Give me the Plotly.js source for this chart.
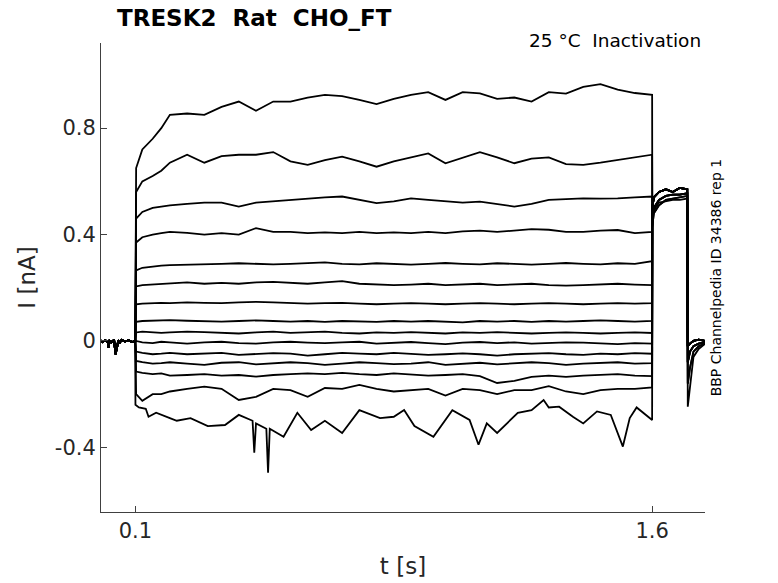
<!DOCTYPE html>
<html>
<head>
<meta charset="utf-8">
<script src="https://cdn.plot.ly/plotly-3.0.1.min.js"></script>
<style>
  html, body { margin: 0; padding: 0; background: #fff; }
  #chart { width: 778px; height: 583px; }
</style>
</head>
<body>
<div id="chart"></div>
<script>
// holding period before the step (shared by all sweeps)
const holdT = [0, 0.005, 0.012, 0.02, 0.022, 0.025, 0.03, 0.038, 0.042, 0.046, 0.05, 0.055, 0.06, 0.07, 0.08, 0.09, 0.0995];
const holdV = [0.002, -0.004, 0.003, -0.006, -0.026, 0.0, -0.005, 0.004, -0.05, -0.03, 0.002, -0.006, 0.004, -0.002, 0.003, -0.004, 0.0];

// test pulse sample times (s)
const stepT = [0.1, 0.102, 0.12, 0.15, 0.175, 0.2, 0.25, 0.3, 0.35, 0.4, 0.45, 0.5, 0.55, 0.6, 0.65, 0.7, 0.75,
  0.8, 0.85, 0.9, 0.95, 1.0, 1.05, 1.1, 1.15, 1.2, 1.25, 1.3, 1.35, 1.4, 1.45, 1.5, 1.55, 1.6];

// current during the pulse (nA), one array per sweep, top to bottom
const sweep1 = [0.60, 0.65, 0.72, 0.76, 0.80, 0.85, 0.855, 0.85, 0.88, 0.90, 0.865, 0.90, 0.90, 0.915, 0.925, 0.92, 0.906,
  0.89, 0.91, 0.925, 0.935, 0.906, 0.935, 0.931, 0.91, 0.915, 0.90, 0.935, 0.93, 0.955, 0.965, 0.945, 0.932, 0.925];
const sweep2 = [0.54, 0.56, 0.60, 0.62, 0.64, 0.67, 0.70, 0.67, 0.695, 0.70, 0.70, 0.71, 0.675, 0.662, 0.68, 0.693, 0.675,
  0.655, 0.675, 0.69, 0.705, 0.668, 0.69, 0.71, 0.69, 0.668, 0.685, 0.69, 0.665, 0.662, 0.67, 0.68, 0.69, 0.70];
const sweep3 = [0.44, 0.46, 0.485, 0.50, 0.505, 0.51, 0.515, 0.52, 0.52, 0.505, 0.52, 0.525, 0.53, 0.536, 0.54, 0.543, 0.53,
  0.518, 0.525, 0.536, 0.53, 0.524, 0.52, 0.524, 0.515, 0.505, 0.515, 0.53, 0.533, 0.536, 0.535, 0.536, 0.54, 0.543];
const sweep4 = [0.355, 0.37, 0.39, 0.40, 0.405, 0.41, 0.406, 0.40, 0.405, 0.40, 0.424, 0.41, 0.41, 0.405, 0.408, 0.405, 0.41,
  0.405, 0.408, 0.405, 0.41, 0.405, 0.412, 0.415, 0.41, 0.415, 0.42, 0.418, 0.41, 0.41, 0.415, 0.417, 0.405, 0.41];
const sweep5 = [0.255, 0.265, 0.275, 0.28, 0.283, 0.285, 0.286, 0.288, 0.29, 0.292, 0.29, 0.288, 0.29, 0.292, 0.295, 0.29, 0.288,
  0.292, 0.29, 0.287, 0.29, 0.293, 0.29, 0.288, 0.292, 0.29, 0.287, 0.29, 0.293, 0.29, 0.288, 0.292, 0.29, 0.30];
const sweep6 = [0.20, 0.205, 0.21, 0.212, 0.215, 0.217, 0.22, 0.215, 0.218, 0.215, 0.22, 0.222, 0.218, 0.215, 0.22, 0.225, 0.215,
  0.213, 0.21, 0.212, 0.215, 0.21, 0.212, 0.215, 0.21, 0.213, 0.215, 0.21, 0.208, 0.21, 0.212, 0.215, 0.212, 0.21];
const sweep7 = [0.135, 0.138, 0.14, 0.142, 0.143, 0.142, 0.145, 0.143, 0.142, 0.145, 0.147, 0.145, 0.142, 0.14, 0.142, 0.143, 0.14,
  0.138, 0.14, 0.142, 0.14, 0.138, 0.14, 0.142, 0.14, 0.138, 0.14, 0.142, 0.14, 0.138, 0.14, 0.142, 0.14, 0.142];
const sweep8 = [0.07, 0.072, 0.075, 0.077, 0.078, 0.078, 0.076, 0.075, 0.073, 0.075, 0.077, 0.075, 0.073, 0.075, 0.072, 0.075, 0.073,
  0.072, 0.075, 0.073, 0.075, 0.073, 0.07, 0.075, 0.073, 0.075, 0.072, 0.075, 0.073, 0.075, 0.077, 0.075, 0.073, 0.075];
const sweep9 = [0.03, 0.032, 0.035, 0.033, 0.03, 0.032, 0.035, 0.033, 0.03, 0.028, 0.032, 0.035, 0.03, 0.032, 0.035, 0.03, 0.028,
  0.032, 0.03, 0.033, 0.03, 0.028, 0.032, 0.03, 0.033, 0.03, 0.028, 0.03, 0.032, 0.03, 0.028, 0.03, 0.032, 0.03];
const sweep10 = [-0.005, 0.0, -0.005, -0.008, -0.003, -0.005, -0.01, -0.005, -0.003, -0.008, -0.01, -0.005, -0.003, -0.006, -0.008, -0.005, -0.003,
  -0.01, -0.006, -0.004, -0.008, -0.012, -0.006, -0.004, -0.008, -0.005, -0.01, -0.008, -0.005, -0.006, -0.01, -0.012, -0.008, -0.01];
const sweep11 = [-0.03, -0.04, -0.045, -0.05, -0.048, -0.045, -0.05, -0.047, -0.045, -0.052, -0.05, -0.046, -0.048, -0.055, -0.05, -0.045, -0.048,
  -0.05, -0.045, -0.048, -0.052, -0.05, -0.047, -0.05, -0.055, -0.05, -0.048, -0.046, -0.05, -0.052, -0.048, -0.05, -0.046, -0.048];
const sweep12 = [-0.07, -0.075, -0.08, -0.085, -0.083, -0.08, -0.085, -0.09, -0.082, -0.08, -0.088, -0.085, -0.08, -0.083, -0.09, -0.085, -0.08,
  -0.083, -0.087, -0.085, -0.08, -0.09, -0.085, -0.082, -0.088, -0.085, -0.08, -0.083, -0.09, -0.085, -0.083, -0.08, -0.085, -0.083];
const sweep13 = [-0.11, -0.115, -0.12, -0.125, -0.122, -0.13, -0.128, -0.125, -0.13, -0.128, -0.134, -0.128, -0.125, -0.122, -0.125, -0.12, -0.125,
  -0.128, -0.122, -0.125, -0.13, -0.128, -0.125, -0.132, -0.158, -0.15, -0.135, -0.13, -0.135, -0.13, -0.128, -0.125, -0.13, -0.132];
const sweep14 = [-0.18, -0.20, -0.225, -0.20, -0.20, -0.19, -0.18, -0.172, -0.18, -0.222, -0.21, -0.18, -0.185, -0.21, -0.177, -0.18, -0.165,
  -0.18, -0.19, -0.185, -0.18, -0.205, -0.18, -0.185, -0.20, -0.185, -0.185, -0.17, -0.19, -0.20, -0.185, -0.18, -0.18, -0.175];

// the lowest sweep has sharp downward spikes, so it keeps its own sample times
const lowT = [0.1, 0.11, 0.13, 0.138, 0.16, 0.2, 0.22, 0.26, 0.31, 0.36, 0.4, 0.44, 0.445, 0.45, 0.48, 0.485, 0.49, 0.53, 0.57,
  0.61, 0.65, 0.7, 0.75, 0.81, 0.85, 0.88, 0.91, 0.965, 1.02, 1.07, 1.096, 1.12, 1.15, 1.21, 1.25, 1.285, 1.3, 1.33,
  1.37, 1.4, 1.44, 1.48, 1.515, 1.535, 1.555, 1.6];
const lowV = [-0.24, -0.25, -0.255, -0.285, -0.27, -0.29, -0.30, -0.29, -0.32, -0.316, -0.278, -0.30, -0.42, -0.31, -0.33, -0.495, -0.33, -0.36, -0.27,
  -0.335, -0.30, -0.346, -0.26, -0.29, -0.285, -0.26, -0.32, -0.36, -0.26, -0.297, -0.39, -0.31, -0.346, -0.27, -0.26, -0.222, -0.25, -0.247,
  -0.285, -0.31, -0.265, -0.278, -0.397, -0.29, -0.25, -0.297];

// tail after the pulse, a few shapes seen in the picture
const tailT = [1.6005, 1.605, 1.62, 1.64, 1.66, 1.68, 1.702, 1.7035, 1.71, 1.72, 1.735, 1.754];
const tailA = [0.50, 0.54, 0.56, 0.57, 0.56, 0.575, 0.57, -0.02, -0.01, 0.0, 0.005, 0.0];
const tailB = [0.46, 0.50, 0.53, 0.545, 0.55, 0.55, 0.555, -0.08, -0.04, -0.02, -0.01, -0.005];
const tailC = [0.43, 0.48, 0.51, 0.53, 0.535, 0.54, 0.545, -0.16, -0.1, -0.04, -0.02, -0.01];
const tailD = [0.45, 0.49, 0.52, 0.525, 0.53, 0.53, 0.535, -0.247, -0.17, -0.06, -0.03, -0.01];

const sweeps = [sweep1, sweep2, sweep3, sweep4, sweep5, sweep6, sweep7, sweep8, sweep9, sweep10, sweep11, sweep12, sweep13, sweep14];
const tails = [tailD, tailC, tailB, tailA, tailA, tailB, tailA, tailA, tailB, tailA, tailA, tailC, tailA, tailB, tailA];

const textColor = "#262626";
const axisColor = "#404040";
const font = "DejaVu Sans, Liberation Sans, sans-serif";

const data = [];
sweeps.forEach((v, i) => {
    data.push({
        x: holdT.concat(stepT, tailT),
        y: holdV.concat(v, tails[i]),
        mode: "lines",
        line: { color: "#000", width: 1.8 },
        hoverinfo: "skip"
    });
});
data.push({
    x: holdT.concat(lowT, tailT),
    y: holdV.concat(lowV, tails[14]),
    mode: "lines",
    line: { color: "#000", width: 1.8 },
    hoverinfo: "skip"
});

const layout = {
    width: 778,
    height: 583,
    margin: { l: 101, r: 73, t: 43, b: 71 },
    paper_bgcolor: "#fff",
    plot_bgcolor: "#fff",
    showlegend: false,
    font: { family: font, color: textColor },
    xaxis: {
        range: [0, 1.7535],
        tickvals: [0.1, 1.6],
        ticktext: ["0.1", "1.6"],
        ticks: "inside",
        ticklen: 6,
        tickcolor: axisColor,
        showline: true,
        linecolor: axisColor,
        linewidth: 1,
        showgrid: false,
        zeroline: false,
        tickfont: { family: font, size: 21, color: textColor },
        title: { text: "t [s]", font: { family: font, size: 23, color: textColor }, standoff: 15 }
    },
    yaxis: {
        range: [-0.643, 1.12],
        tickvals: [-0.4, 0, 0.4, 0.8],
        ticktext: ["-0.4", "0", "0.4", "0.8"],
        ticks: "inside",
        ticklen: 6,
        tickcolor: axisColor,
        showline: true,
        linecolor: axisColor,
        linewidth: 1,
        showgrid: false,
        zeroline: false,
        tickfont: { family: font, size: 21, color: textColor },
        title: { text: "I [nA]", font: { family: font, size: 23, color: textColor }, standoff: 12 }
    },
    annotations: [
        {
            text: "<b>TRESK2\u00a0\u00a0Rat\u00a0\u00a0CHO_FT</b>",
            xref: "paper", yref: "paper", x: 0.0232, y: 1.0533,
            xanchor: "left", yanchor: "middle", showarrow: false,
            font: { family: font, size: 23, color: "#000" }
        },
        {
            text: "25 °C\u00a0\u00a0Inactivation",
            xref: "paper", yref: "paper", x: 0.9967, y: 1.0043,
            xanchor: "right", yanchor: "middle", showarrow: false,
            font: { family: font, size: 18.5, color: "#000" }
        },
        {
            text: "BBP Channelpedia ID 34386 rep 1",
            xref: "paper", yref: "paper", x: 1.018, y: 0.5,
            xanchor: "center", yanchor: "middle", showarrow: false,
            textangle: -90,
            font: { family: font, size: 14, color: "#000" }
        }
    ]
};

Plotly.newPlot("chart", data, layout, { staticPlot: true });
</script>
</body>
</html>
